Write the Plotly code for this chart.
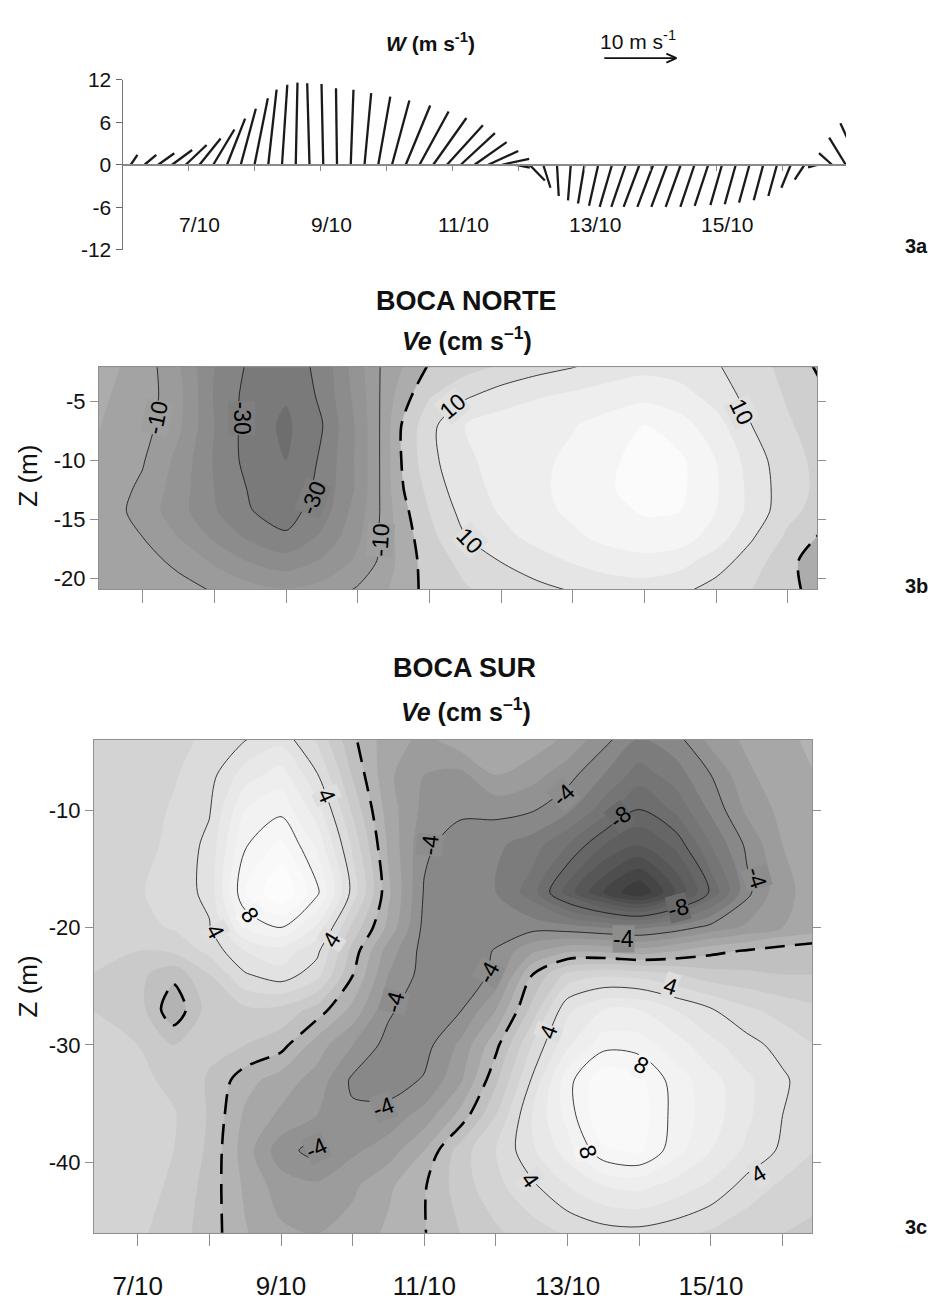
import plotly.graph_objects as go

W, H = 928, 1302
FONT = "Liberation Sans, Arial, sans-serif"

# ---------------- 3a: wind sticks ----------------
stick_start_day = 6.125          # 6 Oct, 03:00
stick_step_day = 5 / 24          # 5-hourly records
wind_u = [0.93, 1.63, 2.23, 2.79, 2.89, 2.93, 2.93, 2.51, 2.09, 1.85,
          1.16, 0.74, 0.24, -0.32, -0.24, -0.14, 0.38, 0.93, 1.67, 2.41,
          3.39, 4.04, 4.60, 4.98, 4.74, 4.46, 4.16, 3.77, 1.95, 2.13,
          1.00, 0.24, -0.38, -0.90, -1.28, -1.71, -2.00, -2.20, -2.20, -2.17,
          -2.09, -1.96, -1.88, -1.61, -1.53, -1.45, -1.32, -1.20, -1.30, -1.36,
          -1.42, -1.80, -2.30, -2.65]
wind_v = [1.39, 1.39, 1.63, 2.09, 2.79, 3.72, 4.98, 6.51, 7.91, 9.39,
          10.6, 11.3, 11.6, 11.5, 11.4, 10.8, 10.6, 10.1, 9.62, 9.07,
          8.37, 7.53, 6.60, 5.58, 4.46, 3.20, 1.95, 0.84, -0.42, -2.23,
          -3.25, -4.41, -5.02, -5.48, -5.80, -5.94, -5.94, -5.94, -5.94, -5.94,
          -5.94, -5.94, -5.80, -5.70, -5.58, -5.35, -5.02, -4.41, -3.25, -2.09,
          -0.37, 1.63, 3.82, 5.86]
date_days = [7, 9, 11, 13, 15]
date_text = ["7/10", "9/10", "11/10", "13/10", "15/10"]
day_ticks = list(range(7, 17))
w_ticks = [-12, -6, 0, 6, 12]
ref_speed = 10  # m/s, scale arrow

# ---------------- 3b: Boca Norte, Ve (cm/s) ----------------
bn_days = [6.35, 6.75, 7.0, 7.5, 8.0, 8.5, 9.0, 9.5, 10.0, 10.3, 10.6, 11.0,
           11.5, 12.0, 12.5, 13.0, 13.5, 14.0, 14.5, 15.0, 15.5, 16.0, 16.45]
bn_depth = [-2.0, -4.5, -7.0, -10.0, -12.5, -14.3, -16.5, -18.5, -21.0]
bn_ve = [
    [-2.5, -5.5, -7.0, -14.5, -25.0, -31.0, -33.0, -28.5, -17.0, -10.2, -5.5, 0.5,
     3.0, 5.5, 8.0, 9.7, 12.0, 13.5, 12.5, 10.5, 7.0, 3.5, -1.0],
    [-4.0, -6.0, -7.2, -13.5, -25.5, -32.0, -34.5, -29.0, -18.0, -10.2, -2.8, 4.5,
     9.2, 12.5, 14.5, 16.0, 17.5, 18.5, 17.0, 13.0, 8.0, 4.5, 1.2],
    [-4.7, -6.5, -8.0, -14.0, -25.0, -32.5, -36.0, -30.3, -19.0, -10.2, -0.2, 8.5,
     15.0, 17.5, 18.5, 19.7, 22.0, 25.0, 22.0, 17.0, 10.0, 5.5, 3.0],
    [-5.5, -8.0, -9.6, -16.5, -25.5, -32.0, -35.0, -29.2, -19.0, -10.2, -0.2, 8.5,
     14.0, 17.0, 19.0, 21.0, 24.0, 27.0, 26.0, 20.0, 12.8, 6.5, 4.0],
    [-6.5, -9.3, -11.0, -17.5, -25.0, -30.5, -33.5, -28.5, -19.0, -10.2, -0.8, 6.5,
     13.5, 16.0, 19.0, 21.5, 24.5, 27.0, 26.0, 20.5, 13.5, 7.0, 4.0],
    [-7.0, -9.8, -12.0, -18.0, -24.5, -29.8, -32.0, -27.5, -17.5, -10.2, -2.0, 5.0,
     12.0, 15.5, 18.5, 21.0, 23.5, 25.5, 25.0, 20.0, 13.5, 6.5, 3.0],
    [-7.0, -8.5, -10.0, -15.0, -21.0, -26.0, -29.3, -24.0, -16.0, -9.8, -3.0, 3.5,
     9.8, 13.5, 16.5, 19.0, 21.5, 23.0, 22.5, 17.5, 10.5, 4.0, -0.5],
    [-7.0, -7.5, -8.5, -11.0, -16.0, -20.5, -23.0, -19.5, -14.0, -9.5, -3.5, 2.5,
     6.5, 10.2, 13.0, 15.5, 17.5, 18.5, 17.0, 12.5, 7.5, 1.5, -3.0],
    [-7.0, -7.0, -7.5, -8.5, -10.3, -13.0, -14.5, -13.0, -9.3, -7.0, -2.5, 1.5,
     4.5, 6.5, 8.5, 10.3, 12.0, 12.5, 11.0, 8.0, 5.0, 2.5, -3.5],
]
bn_levels = dict(start=-35, end=25, size=5)
bn_band_colors = ["#6e6e6e", "#7a7a7a", "#848484", "#8c8c8c", "#949494", "#9b9b9b",
                  "#a3a3a3", "#acacac", "#cfcfcf", "#dadada", "#e5e5e5", "#eeeeee",
                  "#f5f5f5", "#fbfbfb"]
# contour labels: (value, day, depth, text angle)
bn_labels = [(-10, 7.20, -6.4, -78), (-30, 8.38, -6.4, 90), (-30, 9.38, -13.2, -68),
             (-10, 10.31, -16.7, -86), (10, 11.33, -5.4, -40), (10, 11.57, -16.8, 46),
             (10, 15.36, -5.85, 64)]

# ---------------- 3c: Boca Sur, Ve (cm/s) ----------------
bs_days = [6.35, 7.0, 7.5, 8.0, 8.5, 9.0, 9.5, 10.0, 10.5, 11.0, 11.5, 12.0,
           12.5, 13.0, 13.5, 14.0, 14.5, 15.0, 15.5, 16.0, 16.45]
bs_depth = [-3.9, -7, -10, -13, -17, -20, -22, -24, -27, -30, -33, -36, -39, -42, -46.1]
bs_ve = [
    [2.0, 2.3, 2.7, 3.2, 3.9, 4.6, 2.8, 0.2, -1.6, -2.2, -1.3, -1.0, -1.3, -2.2, -3.6, -5.0, -4.4, -2.6, -1.8, -1.2, -0.8],
    [2.0, 2.4, 2.9, 3.6, 5.5, 6.5, 4.1, 0.9, -1.8, -3.0, -3.3, -2.0, -2.6, -3.6, -5.0, -6.5, -5.5, -4.0, -2.2, -1.4, -1.0],
    [2.2, 2.6, 3.1, 3.9, 7.0, 7.7, 5.5, 1.8, -1.5, -3.3, -3.8, -3.7, -3.9, -4.8, -6.5, -8.1, -6.8, -4.8, -2.8, -1.7, -1.2],
    [2.3, 2.7, 3.2, 4.3, 7.9, 9.3, 6.8, 2.8, -1.2, -3.8, -4.5, -4.8, -5.5, -7.0, -9.0, -10.0, -8.8, -6.0, -3.8, -2.0, -1.5],
    [2.5, 2.9, 3.4, 4.3, 9.0, 11.0, 8.3, 3.6, -0.8, -4.1, -4.6, -5.0, -6.5, -9.5, -12.0, -14.0, -11.0, -7.8, -4.3, -2.2, -1.7],
    [2.4, 2.7, 3.1, 3.9, 7.0, 8.0, 5.8, 1.7, -1.3, -4.3, -4.8, -4.6, -4.4, -4.6, -5.0, -5.2, -4.6, -3.6, -2.8, -2.0, -1.6],
    [2.2, 2.0, 2.2, 3.3, 5.0, 5.6, 4.3, 0.6, -2.5, -4.4, -4.8, -3.9, -2.2, -1.2, -1.2, -1.6, -1.0, -0.3, 0.1, 0.5, 0.8],
    [2.0, 1.3, 0.3, 2.0, 3.9, 4.6, 3.4, 0.05, -3.0, -4.4, -4.6, -3.8, -0.05, 2.3, 2.8, 2.6, 2.1, 1.4, 1.2, 1.0, 1.0],
    [2.0, 1.5, -0.8, 1.5, 1.8, 1.7, 0.6, -1.3, -3.8, -4.8, -4.1, -2.0, 1.3, 4.8, 6.0, 6.0, 5.0, 4.1, 3.2, 2.6, 2.2],
    [2.3, 2.0, 1.0, 1.2, 1.0, 0.4, -1.5, -3.0, -4.4, -4.4, -2.8, -0.3, 3.0, 5.8, 7.6, 7.5, 6.5, 5.3, 4.4, 3.6, 3.0],
    [2.5, 2.3, 1.7, 0.9, -0.6, -1.5, -2.4, -4.2, -4.5, -3.9, -2.2, 0.8, 4.1, 7.6, 9.8, 9.3, 7.5, 6.4, 5.2, 4.2, 3.3],
    [2.9, 2.7, 2.1, 0.9, -1.2, -2.2, -3.0, -3.8, -3.6, -2.6, -0.7, 2.0, 5.0, 7.4, 10.0, 9.6, 7.6, 6.5, 5.2, 4.0, 3.2],
    [3.0, 2.7, 2.0, 0.8, -1.5, -3.6, -4.4, -3.2, -2.5, -1.0, 1.5, 3.0, 4.8, 6.5, 8.8, 9.2, 7.4, 6.0, 4.8, 3.8, 3.0],
    [2.8, 2.5, 1.8, 0.6, -1.2, -2.5, -2.8, -2.2, -1.2, -0.1, 1.5, 2.7, 3.8, 5.0, 6.0, 6.3, 5.6, 4.8, 3.6, 2.8, 2.3],
    [2.5, 2.2, 1.5, 0.5, -0.9, -1.8, -2.0, -1.6, -0.8, -0.05, 1.0, 1.8, 2.5, 3.1, 3.5, 3.6, 3.3, 2.8, 2.3, 2.0, 1.8],
]
bs_levels = dict(start=-14, end=10, size=1)
bs_band_colors = ["#333333", "#3c3c3c", "#454545", "#4e4e4e", "#575757", "#5f5f5f",
                  "#666666", "#6e6e6e", "#757575", "#7c7c7c", "#888888", "#929292",
                  "#9c9c9c", "#a7a7a7", "#b3b3b3", "#c0c0c0", "#cacaca", "#d3d3d3",
                  "#dbdbdb", "#e2e2e2", "#e8e8e8", "#eeeeee", "#f2f2f2", "#f6f6f6",
                  "#f9f9f9", "#fcfcfc"]
bs_labels = [(4, 9.64, -8.8, 66), (8, 8.57, -18.9, 55), (4, 8.08, -20.3, 62),
             (4, 9.71, -21.0, -58), (-4, 11.08, -13.0, -84), (-4, 12.94, -8.7, -43),
             (-8, 13.73, -10.6, -37), (-4, 15.64, -15.8, 72), (-8, 14.54, -18.3, -14),
             (-4, 13.78, -21.0, 0), (-4, 11.9, -23.8, -62), (-4, 10.59, -26.3, -75),
             (-4, 10.43, -35.3, -21), (-4, 9.5, -38.8, -25), (4, 14.43, -25.0, 18),
             (4, 12.73, -28.9, -70), (8, 14.03, -31.7, 27), (8, 13.29, -39.1, 73),
             (4, 12.48, -41.5, 55), (4, 15.66, -41.0, -31)]


# ---------------- geometry (pixels on the page) ----------------
def xp(px):
    return px / W


def yp(py):
    return 1 - py / H


A_LEFT, A_RIGHT, A_TOP, A_BOT = 122.5, 846.0, 69.0, 242.0
A_XRANGE = [6.0, 6.0 + (A_RIGHT - A_LEFT) / 66.0]
B_LEFT, B_RIGHT, B_TOP, B_BOT = 99.0, 817.3, 361.7, 587.7
C_LEFT, C_RIGHT, C_TOP, C_BOT = 94.0, 812.3, 740.7, 1242.7

# horizontal stick scale: one m/s spans as many pixels sideways as upward
px_per_day = (A_RIGHT - A_LEFT) / (A_XRANGE[1] - A_XRANGE[0])
px_per_ms = (A_BOT - A_TOP) / (w_ticks[-1] - w_ticks[0])
days_per_ms = px_per_ms / px_per_day

stick_x, stick_y = [], []
for i, (u, v) in enumerate(zip(wind_u, wind_v)):
    t = stick_start_day + i * stick_step_day
    stick_x += [t, t + u * days_per_ms, None]
    stick_y += [0, v, None]


def band_scale(colors):
    n = len(colors) - 1
    return [[j / n, c] for j, c in enumerate(colors)]


def mix(c1, c2):
    a = [int(c1[k:k + 2], 16) for k in (1, 3, 5)]
    b = [int(c2[k:k + 2], 16) for k in (1, 3, 5)]
    return "#" + "".join(f"{(p + q) // 2:02x}" for p, q in zip(a, b))


def label_bg(value, levels, colors):
    # average of the two bands that meet along this contour
    k = int(round((value - levels["start"]) / levels["size"]))
    k = max(0, min(len(colors) - 2, k))
    return mix(colors[k], colors[k + 1])


fig = go.Figure()

fig.add_trace(go.Scatter(
    x=stick_x, y=stick_y, mode="lines", xaxis="x", yaxis="y",
    line=dict(color="#1a1a1a", width=2.3), hoverinfo="skip", showlegend=False))

SMOOTH = 0.85


def add_panel(days, depth, ve, levels, colors, line_levels, xa, ya):
    fig.add_trace(go.Contour(
        x=days, y=depth, z=ve, xaxis=xa, yaxis=ya,
        autocontour=False, contours=dict(coloring="fill", showlines=False, **levels),
        colorscale=band_scale(colors), showscale=False,
        line=dict(width=0, smoothing=SMOOTH), hoverinfo="skip"))
    for lv in line_levels:
        fig.add_trace(go.Contour(
            x=days, y=depth, z=ve, xaxis=xa, yaxis=ya,
            autocontour=False, contours=dict(coloring="none", showlabels=False, **lv),
            line=dict(color="#111", width=0.8, smoothing=SMOOTH),
            showscale=False, hoverinfo="skip"))
    fig.add_trace(go.Contour(
        x=days, y=depth, z=ve, xaxis=xa, yaxis=ya,
        autocontour=False, contours=dict(coloring="none", start=0, end=0, size=1),
        line=dict(color="#000", width=2.6, dash="20px,10px", smoothing=SMOOTH),
        showscale=False, hoverinfo="skip"))


add_panel(bn_days, bn_depth, bn_ve, bn_levels, bn_band_colors,
          [dict(start=-30, end=10, size=20)], "x2", "y2")
add_panel(bs_days, bs_depth, bs_ve, bs_levels, bs_band_colors,
          [dict(start=-8, end=-4, size=4), dict(start=4, end=8, size=4)], "x3", "y3")

FRAME = "#8f8f8f"
tickfont = dict(family=FONT, size=22, color="#111")

layout = dict(
    width=W, height=H, margin=dict(l=0, r=0, t=0, b=0),
    paper_bgcolor="white", plot_bgcolor="white", showlegend=False,
    font=dict(family=FONT, color="#111"),
    # panel a: sticks drawn along the zero line
    xaxis=dict(domain=[xp(A_LEFT), xp(A_RIGHT)], range=A_XRANGE, anchor="free",
               position=yp((A_TOP + A_BOT) / 2), showline=True, linecolor="#8a8a8a",
               linewidth=1.5, ticks="outside", ticklen=5, tickcolor="#8a8a8a",
               tickvals=day_ticks, showticklabels=False, showgrid=False, zeroline=False),
    yaxis=dict(domain=[yp(A_BOT), yp(A_TOP)], range=[w_ticks[0], w_ticks[-1]], anchor="x",
               tickvals=w_ticks, ticktext=[str(t) for t in w_ticks], ticks="outside",
               ticklen=6, tickcolor="#666", showline=True, linecolor="#777",
               showgrid=False, zeroline=False, tickfont=dict(family=FONT, size=21, color="#111")),
    # panel b
    xaxis2=dict(domain=[xp(B_LEFT), xp(B_RIGHT)], range=[6.39, 16.413], anchor="y2",
                tickvals=day_ticks, showticklabels=False, ticks="outside", ticklen=13,
                tickcolor=FRAME, showline=True, mirror=True, linecolor=FRAME,
                showgrid=False, zeroline=False),
    yaxis2=dict(domain=[yp(B_BOT), yp(B_TOP)], range=[-20.92, -2.08], anchor="x2",
                tickvals=[-20, -15, -10, -5], ticktext=["-20", "-15", "-10", "-5"],
                ticks="outside", ticklen=8, tickcolor=FRAME, showline=True,
                mirror="ticks", linecolor=FRAME, showgrid=False, zeroline=False,
                tickfont=tickfont),
    # panel c
    xaxis3=dict(domain=[xp(C_LEFT), xp(C_RIGHT)], range=[6.39, 16.415], anchor="y3",
                tickvals=date_days, ticktext=date_text,
                ticks="outside", ticklen=12, tickcolor=FRAME, showline=True, mirror=True,
                linecolor=FRAME, showgrid=False, zeroline=False, ticklabelstandoff=18,
                tickfont=dict(family=FONT, size=26, color="#111"),
                minor=dict(tickvals=[d for d in day_ticks if d not in date_days],
                           ticks="outside", ticklen=12, tickcolor=FRAME)),
    yaxis3=dict(domain=[yp(C_BOT), yp(C_TOP)], range=[-46.0, -4.0], anchor="x3",
                tickvals=[-40, -30, -20, -10], ticktext=["-40", "-30", "-20", "-10"],
                ticks="outside", ticklen=8, tickcolor=FRAME, showline=True,
                mirror="ticks", linecolor=FRAME, showgrid=False, zeroline=False,
                tickfont=tickfont),
)
fig.update_layout(**layout)

ann = []
# date labels of the wind panel, just below the sticks
for d, txt in zip(date_days, date_text):
    ann.append(dict(x=d + 0.16, y=-8.4, xref="x", yref="y", text=txt, showarrow=False,
                    font=dict(family=FONT, size=21, color="#111")))

# contour labels sitting on their lines
for labels, levels, colors, xa, ya in ((bn_labels, bn_levels, bn_band_colors, "x2", "y2"),
                                       (bs_labels, bs_levels, bs_band_colors, "x3", "y3")):
    for value, day, z, ang in labels:
        ann.append(dict(x=day, y=z, xref=xa, yref=ya, text=str(value), showarrow=False,
                        textangle=ang, bgcolor=label_bg(value, levels, colors), borderpad=0,
                        font=dict(family=FONT, size=23, color="#000")))


def paper_text(x, y, text, size, angle=0):
    ann.append(dict(x=xp(x), y=yp(y), xref="paper", yref="paper", text=text,
                    showarrow=False, textangle=angle, xanchor="center", yanchor="middle",
                    font=dict(family=FONT, size=size, color="#111")))


paper_text(430, 31, "<b><i>W</i> (m s<sup>-1</sup>)</b>", 21)
paper_text(638, 28, "10 m s<sup>-1</sup>", 21)
paper_text(466, 294, "<b>BOCA NORTE</b>", 27)
paper_text(467, 333, "<b><i>Ve</i> (cm s<sup>–1</sup>)</b>", 25)
paper_text(464, 668, "<b>BOCA SUR</b>", 27)
paper_text(466, 711, "<b><i>Ve</i> (cm s<sup>–1</sup>)</b>", 25)
paper_text(28, 472, "Z (m)", 26, angle=-90)
paper_text(28, 992, "Z (m)", 26, angle=-90)
paper_text(916, 238, "<b>3a</b>", 20)
paper_text(916, 584, "<b>3b</b>", 20)
paper_text(916, 1237, "<b>3c</b>", 20)
fig.update_layout(annotations=ann)

# scale arrow for the sticks: ref_speed at the same horizontal scale, open head
arrow_tail = 13.30
arrow_head = arrow_tail + ref_speed * days_per_ms
arrow_y = yp(47)
head_dx = 10.0 / px_per_day
head_dy = 4.6 / H
arrow_style = dict(type="line", xref="x", yref="paper", line=dict(color="#111", width=1.8))
fig.update_layout(shapes=[
    dict(x0=arrow_tail, x1=arrow_head, y0=arrow_y, y1=arrow_y, **arrow_style),
    dict(x0=arrow_head - head_dx, x1=arrow_head, y0=arrow_y + head_dy, y1=arrow_y, **arrow_style),
    dict(x0=arrow_head - head_dx, x1=arrow_head, y0=arrow_y - head_dy, y1=arrow_y, **arrow_style),
])

fig.write_html("out.html", post_script="document.body.style.margin='0px';")
